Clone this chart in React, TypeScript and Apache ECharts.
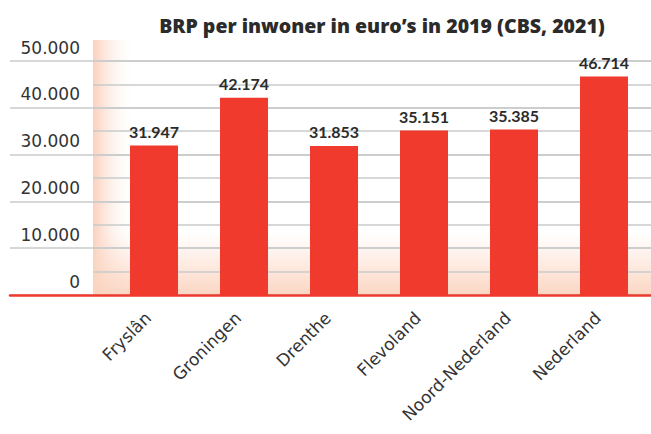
import React, { useEffect, useRef } from "react";
import * as echarts from "echarts";

const categories = ["Fryslân", "Groningen", "Drenthe", "Flevoland", "Noord-Nederland", "Nederland"];
const values = [31947, 42174, 31853, 35151, 35385, 46714];
const yMin = 0;
const yMax = 50000;
const yStep = 10000;
const yMinorStep = 5000;
const titleText = "BRP per inwoner in euro’s in 2019 (CBS, 2021)";

const fmt = (v: number) => String(v).replace(/\B(?=(\d{3})+(?!\d))/g, ".");

export default function App() {
  const ref = useRef<HTMLDivElement>(null);
  useEffect(() => {
    if (!ref.current) return;
    const chart = echarts.init(ref.current, undefined, { renderer: "svg" });
    const red = "#ef3a2d";
    const grid = "#c9cbcb";
    chart.setOption({
      animation: false,
      backgroundColor: "#ffffff",
      title: {
        text: titleText,
        left: 377,
        top: 10,
        textAlign: "center",
        textStyle: { fontFamily: "Open Sans", fontWeight: 800, fontSize: 19.5, color: "#2b2b2b" },
      },
      graphic: {
        elements: [
          {
            type: "rect",
            z: -10,
            shape: { x: 93, y: 40, width: 42, height: 255 },
            style: {
              fill: new echarts.graphic.LinearGradient(0, 0, 1, 0, [
                { offset: 0, color: "rgba(250,200,178,0.85)" },
                { offset: 1, color: "rgba(255,255,255,0)" },
              ]),
            },
          },
          {
            type: "rect",
            z: -10,
            shape: { x: 93, y: 232, width: 558, height: 63 },
            style: {
              fill: new echarts.graphic.LinearGradient(0, 0, 0, 1, [
                { offset: 0, color: "rgba(252,215,197,0)" },
                { offset: 1, color: "rgba(251,212,192,0.95)" },
              ]),
            },
          },
        ],
      },
      grid: [
        { left: 10, right: 0, top: 61, bottom: 139 },
        { left: 93, right: 0, top: 61, bottom: 139 },
        { left: 109, right: 2, top: 61, bottom: 139 },
      ],
      xAxis: [
        {
          gridIndex: 0,
          type: "value",
          min: 0,
          max: 1,
          axisLine: { show: true, lineStyle: { color: red, width: 2.5 } },
          axisTick: { show: false },
          axisLabel: { show: false },
          splitLine: { show: false },
          z: 5,
        },
        {
          gridIndex: 1,
          type: "value",
          min: 0,
          max: 1,
          show: false,
        },
        {
          gridIndex: 2,
          type: "category",
          data: categories,
          axisLine: { show: false },
          axisTick: { show: false },
          axisLabel: {
            rotate: 45,
            margin: 26,
            interval: 0,
            verticalAlign: "bottom",
            fontFamily: "DejaVu Sans",
            fontSize: 17,
            color: "#333333",
          },
        },
      ],
      yAxis: [
        {
          gridIndex: 0,
          type: "value",
          min: yMin,
          max: yMax,
          interval: yStep,
          axisLine: { show: false },
          axisTick: { show: false },
          splitLine: { show: true, lineStyle: { color: grid, width: 1.5 } },
          axisLabel: {
            margin: -70,
            align: "right",
            verticalAlign: "bottom",
            padding: [0, 0, 5, 0],
            fontFamily: "DejaVu Sans",
            fontSize: 17,
            color: "#333333",
            formatter: (v: number) => fmt(v),
          },
        },
        {
          gridIndex: 1,
          type: "value",
          min: yMin,
          max: yMax,
          interval: yMinorStep,
          axisLine: { show: false },
          axisTick: { show: false },
          axisLabel: { show: false },
          splitLine: { show: true, lineStyle: { color: grid, width: 1.5 } },
        },
        {
          gridIndex: 2,
          type: "value",
          min: yMin,
          max: yMax,
          show: false,
          splitLine: { show: false },
        },
      ],
      series: [
        {
          type: "bar",
          xAxisIndex: 2,
          yAxisIndex: 2,
          data: values,
          barWidth: 48,
          itemStyle: { color: red },
          label: {
            show: true,
            position: "top",
            distance: 6,
            fontFamily: "Lato",
            fontWeight: "bold",
            fontSize: 16,
            color: "#2b2b2b",
            formatter: (p: any) => fmt(p.value),
          },
        },
      ],
    });
    return () => chart.dispose();
  }, []);
  return <div ref={ref} style={{ width: 651, height: 434, position: "absolute", left: 0, top: 0 }} />;
}
